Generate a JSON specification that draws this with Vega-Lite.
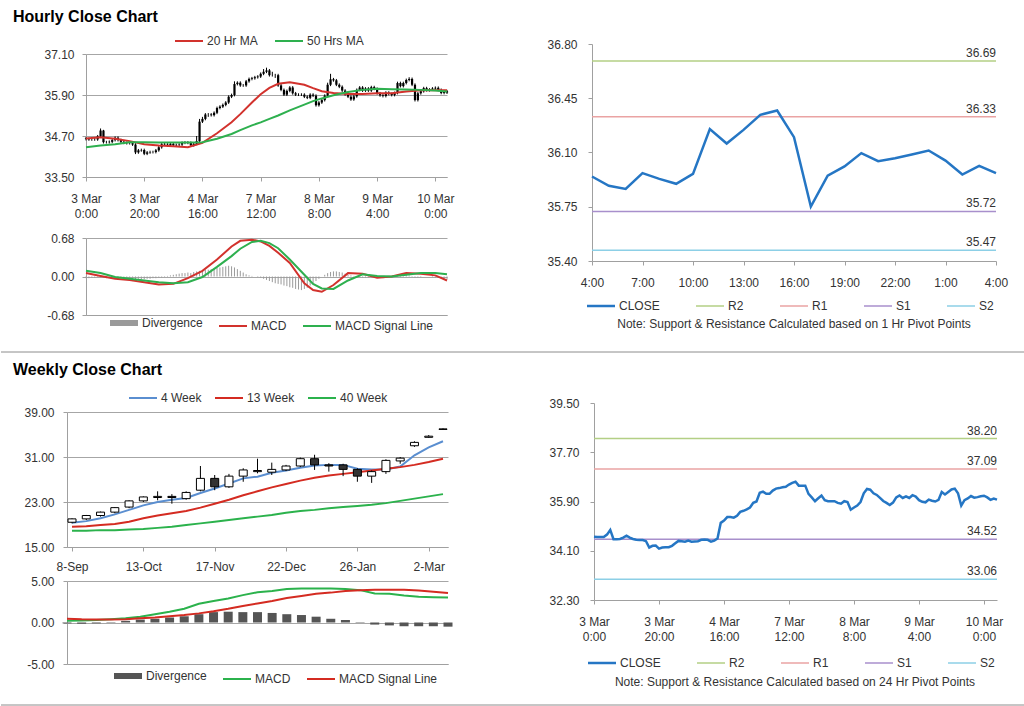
{
  "$schema": "https://vega.github.io/schema/vega-lite/v6.json",
  "padding": {"left": 0, "top": 9, "right": 0, "bottom": 0},
  "background": "white",
  "config": {
    "font": "Liberation Sans",
    "view": {"stroke": null},
    "axis": {"labelFont": "Liberation Sans", "labelFontSize": 12, "labelColor": "#333333", "domainColor": "#a0a0a0", "tickColor": "#a0a0a0", "tickSize": 4, "gridColor": "#a6a6a6", "labelFlush": false, "labelOverlap": false, "tickCount": 20},
    "legend": {"labelFont": "Liberation Sans", "labelFontSize": 12, "labelColor": "#333333", "layout": {"top": {"anchor": "middle"}, "bottom": {"anchor": "middle"}}},
    "title": {"font": "Liberation Sans"}
  },
  "datasets": {
    "hourly": [
      {"i":0,"o":34.63,"h":34.67,"l":34.57,"c":34.61,"d":-0.03},
      {"i":1,"o":34.61,"h":34.65,"l":34.56,"c":34.60,"d":-0.03},
      {"i":2,"o":34.60,"h":34.64,"l":34.56,"c":34.60,"d":-0.02},
      {"i":3,"o":34.60,"h":34.64,"l":34.56,"c":34.60,"d":-0.02},
      {"i":4,"o":34.60,"h":34.73,"l":34.56,"c":34.69,"d":-0.01},
      {"i":5,"o":34.69,"h":34.92,"l":34.65,"c":34.86,"d":-0.02},
      {"i":6,"o":34.86,"h":34.88,"l":34.48,"c":34.52,"d":-0.02},
      {"i":7,"o":34.52,"h":34.56,"l":34.48,"c":34.52,"d":-0.03},
      {"i":8,"o":34.52,"h":34.57,"l":34.48,"c":34.53,"d":-0.02},
      {"i":9,"o":34.53,"h":34.62,"l":34.49,"c":34.58,"d":-0.02},
      {"i":10,"o":34.58,"h":34.69,"l":34.54,"c":34.65,"d":-0.02},
      {"i":11,"o":34.65,"h":34.69,"l":34.54,"c":34.58,"d":-0.03},
      {"i":12,"o":34.58,"h":34.62,"l":34.49,"c":34.53,"d":-0.03},
      {"i":13,"o":34.53,"h":34.57,"l":34.46,"c":34.50,"d":-0.03},
      {"i":14,"o":34.50,"h":34.54,"l":34.45,"c":34.49,"d":-0.04},
      {"i":15,"o":34.49,"h":34.53,"l":34.45,"c":34.49,"d":-0.03},
      {"i":16,"o":34.49,"h":34.53,"l":34.41,"c":34.45,"d":-0.04},
      {"i":17,"o":34.45,"h":34.49,"l":34.17,"c":34.22,"d":-0.05},
      {"i":18,"o":34.22,"h":34.32,"l":34.18,"c":34.28,"d":-0.04},
      {"i":19,"o":34.28,"h":34.33,"l":34.24,"c":34.29,"d":-0.05},
      {"i":20,"o":34.29,"h":34.33,"l":34.14,"c":34.18,"d":-0.05},
      {"i":21,"o":34.18,"h":34.26,"l":34.14,"c":34.22,"d":-0.04},
      {"i":22,"o":34.22,"h":34.27,"l":34.18,"c":34.23,"d":-0.04},
      {"i":23,"o":34.23,"h":34.27,"l":34.19,"c":34.23,"d":-0.03},
      {"i":24,"o":34.23,"h":34.32,"l":34.19,"c":34.28,"d":-0.03},
      {"i":25,"o":34.28,"h":34.41,"l":34.24,"c":34.37,"d":-0.02},
      {"i":26,"o":34.37,"h":34.50,"l":34.33,"c":34.46,"d":-0.02},
      {"i":27,"o":34.46,"h":34.50,"l":34.41,"c":34.45,"d":-0.01},
      {"i":28,"o":34.45,"h":34.49,"l":34.39,"c":34.43,"d":0.01},
      {"i":29,"o":34.43,"h":34.51,"l":34.39,"c":34.47,"d":0.02},
      {"i":30,"o":34.47,"h":34.51,"l":34.39,"c":34.43,"d":0.03},
      {"i":31,"o":34.43,"h":34.48,"l":34.39,"c":34.44,"d":0.04},
      {"i":32,"o":34.44,"h":34.49,"l":34.40,"c":34.45,"d":0.05},
      {"i":33,"o":34.45,"h":34.54,"l":34.41,"c":34.50,"d":0.06},
      {"i":34,"o":34.50,"h":34.55,"l":34.46,"c":34.51,"d":0.06},
      {"i":35,"o":34.51,"h":34.55,"l":34.46,"c":34.50,"d":0.07},
      {"i":36,"o":34.50,"h":34.54,"l":34.39,"c":34.43,"d":0.06},
      {"i":37,"o":34.43,"h":34.51,"l":34.39,"c":34.47,"d":0.08},
      {"i":38,"o":34.47,"h":34.70,"l":34.43,"c":34.55,"d":0.09},
      {"i":39,"o":34.55,"h":35.20,"l":34.51,"c":35.12,"d":0.10},
      {"i":40,"o":35.12,"h":35.26,"l":35.08,"c":35.20,"d":0.11},
      {"i":41,"o":35.20,"h":35.37,"l":35.16,"c":35.33,"d":0.12},
      {"i":42,"o":35.33,"h":35.37,"l":35.26,"c":35.33,"d":0.12},
      {"i":43,"o":35.33,"h":35.37,"l":35.27,"c":35.31,"d":0.13},
      {"i":44,"o":35.31,"h":35.42,"l":35.27,"c":35.38,"d":0.14},
      {"i":45,"o":35.38,"h":35.56,"l":35.34,"c":35.52,"d":0.15},
      {"i":46,"o":35.52,"h":35.60,"l":35.48,"c":35.56,"d":0.16},
      {"i":47,"o":35.56,"h":35.65,"l":35.52,"c":35.61,"d":0.17},
      {"i":48,"o":35.61,"h":35.72,"l":35.57,"c":35.68,"d":0.18},
      {"i":49,"o":35.68,"h":35.89,"l":35.64,"c":35.85,"d":0.19},
      {"i":50,"o":35.85,"h":35.94,"l":35.81,"c":35.90,"d":0.18},
      {"i":51,"o":35.90,"h":36.30,"l":35.86,"c":36.22,"d":0.16},
      {"i":52,"o":36.22,"h":36.30,"l":36.18,"c":36.26,"d":0.13},
      {"i":53,"o":36.26,"h":36.30,"l":36.14,"c":36.18,"d":0.10},
      {"i":54,"o":36.18,"h":36.22,"l":36.14,"c":36.18,"d":0.07},
      {"i":55,"o":36.18,"h":36.34,"l":36.14,"c":36.30,"d":0.04},
      {"i":56,"o":36.30,"h":36.41,"l":36.26,"c":36.37,"d":0.02},
      {"i":57,"o":36.37,"h":36.43,"l":36.33,"c":36.39,"d":0.01},
      {"i":58,"o":36.39,"h":36.46,"l":36.35,"c":36.42,"d":0.00},
      {"i":59,"o":36.42,"h":36.48,"l":36.38,"c":36.44,"d":-0.01},
      {"i":60,"o":36.44,"h":36.56,"l":36.40,"c":36.52,"d":-0.02},
      {"i":61,"o":36.52,"h":36.66,"l":36.48,"c":36.58,"d":-0.04},
      {"i":62,"o":36.58,"h":36.70,"l":36.54,"c":36.62,"d":-0.06},
      {"i":63,"o":36.62,"h":36.66,"l":36.44,"c":36.48,"d":-0.08},
      {"i":64,"o":36.48,"h":36.58,"l":36.44,"c":36.48,"d":-0.10},
      {"i":65,"o":36.48,"h":36.52,"l":36.40,"c":36.48,"d":-0.12},
      {"i":66,"o":36.48,"h":36.52,"l":36.14,"c":36.18,"d":-0.13},
      {"i":67,"o":36.18,"h":36.22,"l":36.01,"c":36.05,"d":-0.14},
      {"i":68,"o":36.05,"h":36.09,"l":35.87,"c":35.91,"d":-0.16},
      {"i":69,"o":35.91,"h":36.06,"l":35.87,"c":36.02,"d":-0.17},
      {"i":70,"o":36.02,"h":36.16,"l":35.98,"c":36.12,"d":-0.19},
      {"i":71,"o":36.12,"h":36.16,"l":35.91,"c":35.95,"d":-0.20},
      {"i":72,"o":35.95,"h":35.99,"l":35.87,"c":35.91,"d":-0.22},
      {"i":73,"o":35.91,"h":35.95,"l":35.87,"c":35.91,"d":-0.23},
      {"i":74,"o":35.91,"h":35.95,"l":35.87,"c":35.91,"d":-0.24},
      {"i":75,"o":35.91,"h":35.95,"l":35.81,"c":35.85,"d":-0.22},
      {"i":76,"o":35.85,"h":35.89,"l":35.78,"c":35.82,"d":-0.20},
      {"i":77,"o":35.82,"h":35.95,"l":35.78,"c":35.91,"d":-0.16},
      {"i":78,"o":35.91,"h":35.95,"l":35.84,"c":35.88,"d":-0.12},
      {"i":79,"o":35.88,"h":35.92,"l":35.56,"c":35.60,"d":-0.08},
      {"i":80,"o":35.60,"h":35.72,"l":35.56,"c":35.68,"d":-0.04},
      {"i":81,"o":35.68,"h":35.79,"l":35.64,"c":35.75,"d":0.00},
      {"i":82,"o":35.75,"h":35.92,"l":35.71,"c":35.88,"d":0.03},
      {"i":83,"o":35.88,"h":36.26,"l":35.84,"c":36.20,"d":0.06},
      {"i":84,"o":36.20,"h":36.52,"l":36.16,"c":36.36,"d":0.08},
      {"i":85,"o":36.36,"h":36.40,"l":36.29,"c":36.33,"d":0.09},
      {"i":86,"o":36.33,"h":36.37,"l":36.16,"c":36.20,"d":0.09},
      {"i":87,"o":36.20,"h":36.24,"l":36.10,"c":36.14,"d":0.08},
      {"i":88,"o":36.14,"h":36.18,"l":35.99,"c":36.03,"d":0.07},
      {"i":89,"o":36.03,"h":36.07,"l":35.88,"c":35.92,"d":0.05},
      {"i":90,"o":35.92,"h":35.96,"l":35.81,"c":35.85,"d":0.03},
      {"i":91,"o":35.85,"h":35.89,"l":35.73,"c":35.77,"d":0.02},
      {"i":92,"o":35.77,"h":35.90,"l":35.73,"c":35.86,"d":0.01},
      {"i":93,"o":35.86,"h":36.09,"l":35.82,"c":36.05,"d":0.00},
      {"i":94,"o":36.05,"h":36.16,"l":36.01,"c":36.12,"d":-0.01},
      {"i":95,"o":36.12,"h":36.16,"l":35.99,"c":36.03,"d":-0.02},
      {"i":96,"o":36.03,"h":36.13,"l":35.99,"c":36.09,"d":-0.02},
      {"i":97,"o":36.09,"h":36.13,"l":35.99,"c":36.03,"d":-0.02},
      {"i":98,"o":36.03,"h":36.17,"l":35.99,"c":36.13,"d":-0.01},
      {"i":99,"o":36.13,"h":36.17,"l":36.04,"c":36.08,"d":-0.01},
      {"i":100,"o":36.08,"h":36.12,"l":35.91,"c":35.95,"d":-0.02},
      {"i":101,"o":35.95,"h":35.99,"l":35.85,"c":35.89,"d":-0.02},
      {"i":102,"o":35.89,"h":35.93,"l":35.83,"c":35.87,"d":-0.03},
      {"i":103,"o":35.87,"h":36.01,"l":35.83,"c":35.97,"d":-0.02},
      {"i":104,"o":35.97,"h":36.01,"l":35.89,"c":35.93,"d":-0.01},
      {"i":105,"o":35.93,"h":35.97,"l":35.86,"c":35.90,"d":0.00},
      {"i":106,"o":35.90,"h":36.00,"l":35.86,"c":35.96,"d":0.01},
      {"i":107,"o":35.96,"h":36.29,"l":35.92,"c":36.25,"d":0.02},
      {"i":108,"o":36.25,"h":36.29,"l":36.12,"c":36.16,"d":0.03},
      {"i":109,"o":36.16,"h":36.29,"l":36.12,"c":36.25,"d":0.03},
      {"i":110,"o":36.25,"h":36.38,"l":36.21,"c":36.34,"d":0.03},
      {"i":111,"o":36.34,"h":36.42,"l":36.30,"c":36.37,"d":0.02},
      {"i":112,"o":36.37,"h":36.41,"l":36.16,"c":36.20,"d":0.01},
      {"i":113,"o":36.20,"h":36.24,"l":35.71,"c":35.75,"d":-0.02},
      {"i":114,"o":35.75,"h":35.99,"l":35.71,"c":35.95,"d":-0.02},
      {"i":115,"o":35.95,"h":36.05,"l":35.91,"c":36.01,"d":-0.01},
      {"i":116,"o":36.01,"h":36.14,"l":35.97,"c":36.10,"d":0.00},
      {"i":117,"o":36.10,"h":36.14,"l":36.00,"c":36.04,"d":0.00},
      {"i":118,"o":36.04,"h":36.10,"l":36.00,"c":36.06,"d":0.00},
      {"i":119,"o":36.06,"h":36.13,"l":36.02,"c":36.09,"d":-0.01},
      {"i":120,"o":36.09,"h":36.15,"l":36.05,"c":36.11,"d":-0.02},
      {"i":121,"o":36.11,"h":36.15,"l":36.01,"c":36.05,"d":-0.02},
      {"i":122,"o":36.05,"h":36.09,"l":35.92,"c":35.96,"d":-0.03},
      {"i":123,"o":35.96,"h":36.05,"l":35.92,"c":36.01,"d":-0.04},
      {"i":124,"o":36.01,"h":36.05,"l":35.93,"c":35.97,"d":-0.05}
    ],
    "hl": [
      {"i":0,"a":34.63,"b":34.37,"m":0.06,"s":0.10},
      {"i":5,"a":34.66,"b":34.42,"m":0.01,"s":0.06},
      {"i":10,"a":34.62,"b":34.46,"m":-0.04,"s":-0.01},
      {"i":15,"a":34.55,"b":34.52,"m":-0.06,"s":-0.04},
      {"i":20,"a":34.46,"b":34.52,"m":-0.10,"s":-0.07},
      {"i":25,"a":34.42,"b":34.51,"m":-0.14,"s":-0.10},
      {"i":30,"a":34.40,"b":34.51,"m":-0.13,"s":-0.12},
      {"i":35,"a":34.37,"b":34.51,"m":-0.03,"s":-0.10},
      {"i":40,"a":34.50,"b":34.52,"m":0.10,"s":-0.01},
      {"i":45,"a":34.78,"b":34.62,"m":0.30,"s":0.17},
      {"i":50,"a":35.10,"b":34.76,"m":0.53,"s":0.36},
      {"i":53,"a":35.34,"b":34.87,"m":0.63,"s":0.49},
      {"i":57,"a":35.68,"b":35.01,"m":0.65,"s":0.61},
      {"i":60,"a":35.92,"b":35.10,"m":0.62,"s":0.63},
      {"i":63,"a":36.11,"b":35.20,"m":0.54,"s":0.59},
      {"i":66,"a":36.23,"b":35.30,"m":0.42,"s":0.50},
      {"i":70,"a":36.27,"b":35.45,"m":0.24,"s":0.30},
      {"i":75,"a":36.20,"b":35.62,"m":-0.12,"s":0.03},
      {"i":78,"a":36.10,"b":35.72,"m":-0.24,"s":-0.13},
      {"i":81,"a":36.01,"b":35.80,"m":-0.27,"s":-0.21},
      {"i":85,"a":35.96,"b":35.89,"m":-0.15,"s":-0.22},
      {"i":90,"a":35.93,"b":35.99,"m":0.06,"s":-0.07},
      {"i":95,"a":35.93,"b":36.05,"m":0.05,"s":0.04},
      {"i":100,"a":35.95,"b":36.08,"m":-0.02,"s":0.01},
      {"i":105,"a":35.95,"b":36.07,"m":0.00,"s":0.00},
      {"i":110,"a":36.00,"b":36.06,"m":0.06,"s":0.03},
      {"i":115,"a":36.04,"b":36.05,"m":0.05,"s":0.06},
      {"i":120,"a":36.04,"b":36.03,"m":0.02,"s":0.06},
      {"i":124,"a":36.04,"b":36.00,"m":-0.07,"s":0.04}
    ],
    "h24": [
      {"h":0,"c":35.945},{"h":1,"c":35.885},{"h":2,"c":35.865},{"h":3,"c":35.967},{"h":4,"c":35.93},
      {"h":5,"c":35.898},{"h":6,"c":35.962},{"h":7,"c":36.251},{"h":8,"c":36.158},{"h":9,"c":36.246},
      {"h":10,"c":36.343},{"h":11,"c":36.371},{"h":12,"c":36.199},{"h":13,"c":35.751},{"h":14,"c":35.951},
      {"h":15,"c":36.01},{"h":16,"c":36.096},{"h":17,"c":36.044},{"h":18,"c":36.063},{"h":19,"c":36.087},
      {"h":20,"c":36.113},{"h":21,"c":36.048},{"h":22,"c":35.958},{"h":23,"c":36.014},{"h":24,"c":35.967}
    ],
    "p1": [{"n":"R2","v":36.69},{"n":"R1","v":36.33},{"n":"S1","v":35.72},{"n":"S2","v":35.47}],
    "p24": [{"n":"R2","v":38.20},{"n":"R1","v":37.09},{"n":"S1","v":34.52},{"n":"S2","v":33.06}],
    "weekly": [
      {"i":0,"o":19.4,"h":20.1,"l":19.2,"c":20.0,"w4":19.3,"w13":18.6,"w40":17.9,"m":0.20,"s":0.45,"d":-0.10},
      {"i":1,"o":20.0,"h":20.7,"l":19.8,"c":20.6,"w4":19.6,"w13":18.7,"w40":17.9,"m":0.25,"s":0.38,"d":-0.15},
      {"i":2,"o":20.6,"h":21.3,"l":20.4,"c":21.2,"w4":20.1,"w13":18.9,"w40":18.0,"m":0.30,"s":0.35,"d":-0.10},
      {"i":3,"o":21.2,"h":22.1,"l":21.0,"c":22.0,"w4":20.8,"w13":19.1,"w40":18.0,"m":0.40,"s":0.35,"d":0.05},
      {"i":4,"o":22.1,"h":23.3,"l":21.9,"c":23.2,"w4":21.6,"w13":19.5,"w40":18.1,"m":0.50,"s":0.40,"d":0.20},
      {"i":5,"o":23.2,"h":24.0,"l":23.0,"c":23.9,"w4":22.4,"w13":20.1,"w40":18.2,"m":0.70,"s":0.50,"d":0.35},
      {"i":6,"o":23.8,"h":24.9,"l":23.3,"c":24.0,"w4":23.0,"w13":20.6,"w40":18.4,"m":1.00,"s":0.60,"d":0.45},
      {"i":7,"o":24.0,"h":24.4,"l":22.7,"c":23.8,"w4":23.4,"w13":21.0,"w40":18.6,"m":1.30,"s":0.75,"d":0.60},
      {"i":8,"o":23.6,"h":24.9,"l":23.4,"c":24.7,"w4":23.7,"w13":21.4,"w40":18.9,"m":1.65,"s":0.90,"d":0.75},
      {"i":9,"o":25.1,"h":29.4,"l":24.9,"c":27.2,"w4":24.6,"w13":22.0,"w40":19.2,"m":2.25,"s":1.10,"d":1.00},
      {"i":10,"o":27.2,"h":27.8,"l":25.1,"c":25.7,"w4":25.4,"w13":22.7,"w40":19.5,"m":2.60,"s":1.35,"d":1.25},
      {"i":11,"o":25.7,"h":28.0,"l":25.5,"c":27.6,"w4":26.3,"w13":23.4,"w40":19.8,"m":2.90,"s":1.65,"d":1.30},
      {"i":12,"o":27.6,"h":29.0,"l":26.6,"c":28.7,"w4":27.2,"w13":24.2,"w40":20.1,"m":3.30,"s":2.00,"d":1.25},
      {"i":13,"o":28.4,"h":30.7,"l":28.1,"c":28.6,"w4":27.5,"w13":24.9,"w40":20.4,"m":3.65,"s":2.30,"d":1.25},
      {"i":14,"o":28.3,"h":30.0,"l":27.8,"c":28.8,"w4":28.2,"w13":25.6,"w40":20.7,"m":3.80,"s":2.60,"d":1.15},
      {"i":15,"o":28.7,"h":29.6,"l":28.5,"c":29.4,"w4":28.6,"w13":26.2,"w40":21.1,"m":4.05,"s":2.95,"d":1.00},
      {"i":16,"o":29.4,"h":30.9,"l":29.2,"c":30.7,"w4":29.1,"w13":26.8,"w40":21.4,"m":4.10,"s":3.20,"d":0.90},
      {"i":17,"o":30.7,"h":31.4,"l":28.7,"c":29.6,"w4":29.5,"w13":27.3,"w40":21.6,"m":4.10,"s":3.45,"d":0.70},
      {"i":18,"o":29.6,"h":29.9,"l":28.4,"c":29.4,"w4":29.6,"w13":27.7,"w40":21.9,"m":4.10,"s":3.60,"d":0.45},
      {"i":19,"o":29.6,"h":29.8,"l":27.6,"c":28.8,"w4":29.6,"w13":28.0,"w40":22.1,"m":4.05,"s":3.80,"d":0.30},
      {"i":20,"o":28.8,"h":29.0,"l":26.6,"c":27.6,"w4":28.9,"w13":28.3,"w40":22.3,"m":3.90,"s":3.90,"d":-0.05},
      {"i":21,"o":27.6,"h":28.6,"l":26.4,"c":28.4,"w4":28.8,"w13":28.6,"w40":22.5,"m":3.50,"s":3.95,"d":-0.25},
      {"i":22,"o":28.4,"h":30.6,"l":28.0,"c":30.4,"w4":28.8,"w13":28.9,"w40":22.8,"m":3.45,"s":3.95,"d":-0.35},
      {"i":23,"o":30.3,"h":31.0,"l":29.8,"c":30.8,"w4":29.3,"w13":29.2,"w40":23.2,"m":3.25,"s":3.95,"d":-0.45},
      {"i":24,"o":33.0,"h":33.8,"l":32.8,"c":33.6,"w4":31.3,"w13":29.6,"w40":23.6,"m":3.10,"s":3.85,"d":-0.45},
      {"i":25,"o":34.5,"h":34.9,"l":34.4,"c":34.7,"w4":32.7,"w13":30.1,"w40":24.0,"m":3.05,"s":3.70,"d":-0.45},
      {"i":26,"o":35.9,"h":36.1,"l":35.8,"c":36.0,"w4":33.8,"w13":30.7,"w40":24.4,"m":3.00,"s":3.55,"d":-0.50}
    ]
  },
  "columns": 1,
  "align": "none",
  "spacing": 0,
  "resolve": {"scale": {"color": "independent"}, "legend": {"color": "independent"}},
  "concat": [
    {
      "title": {"text": "Hourly Close Chart", "anchor": "start", "fontSize": 16, "fontWeight": "bold", "color": "#000000", "offset": 10, "dx": 12},
      "columns": 2,
      "align": "none",
      "spacing": -1,
      "resolve": {"scale": {"color": "independent"}, "legend": {"color": "independent"}},
      "concat": [
        {"width": 1, "height": 1, "data": {"values": [{"s": 0}]}, "mark": {"type": "point", "opacity": 0, "size": 0}, "encoding": {}},
        {
          "columns": 2,
          "align": "none",
          "spacing": 91,
          "resolve": {"scale": {"color": "independent"}, "legend": {"color": "independent"}},
          "concat": [
            {
              "spacing": 1,
              "resolve": {"scale": {"color": "independent"}, "legend": {"color": "independent"}},
              "vconcat": [
                {
                  "width": 361, "height": 1,
                  "data": {"name": "hl"},
                  "layer": [
                    {"mark": {"type": "line", "clip": true},
                     "encoding": {"x": {"field": "i", "type": "quantitative", "axis": null, "scale": {"domain": [0, 124]}}, "y": {"field": "a", "type": "quantitative", "axis": null, "scale": {"domain": [0, 1]}},
                       "color": {"datum": "20 Hr MA", "type": "nominal", "scale": {"domain": ["20 Hr MA", "50 Hrs MA"], "range": ["#d2322d", "#2eb04f"]}, "legend": {"orient": "top", "direction": "horizontal", "title": " ", "titleOrient": "left", "titlePadding": 14, "symbolType": "M-2.8,0H2.8", "symbolSize": 100, "symbolStrokeWidth": 2, "labelOffset": 12, "columnPadding": 13, "offset": -3}}}},
                    {"mark": {"type": "line", "clip": true},
                     "encoding": {"x": {"field": "i", "type": "quantitative", "axis": null}, "y": {"field": "b", "type": "quantitative", "axis": null}, "color": {"datum": "50 Hrs MA", "type": "nominal"}}}
                  ]
                },
                {
                  "spacing": 13,
                  "resolve": {"scale": {"color": "independent"}, "legend": {"color": "independent"}},
                  "vconcat": [
                    {
                      "width": 361, "height": 123,
                      "encoding": {"x": {"field": "i", "type": "quantitative", "title": null, "scale": {"domain": [0, 124], "nice": false, "zero": false}, "axis": {"values": [0, 20, 40, 60, 80, 100, 120], "labelExpr": "[['3 Mar','0:00'],['3 Mar','20:00'],['4 Mar','16:00'],['7 Mar','12:00'],['8 Mar','8:00'],['9 Mar','4:00'],['10 Mar','0:00']][datum.value / 20]", "labelPadding": 12, "labelLineHeight": 15, "grid": false, "domain": true, "ticks": true}}},
                      "layer": [
                        {"data": {"name": "hourly"}, "mark": {"type": "rule", "color": "#000000", "strokeWidth": 1},
                         "encoding": {"y": {"field": "l", "type": "quantitative", "scale": {"domain": [33.5, 37.1], "nice": false, "zero": false}, "axis": {"values": [33.5, 34.7, 35.9, 37.1], "format": ".2f", "grid": true, "labelPadding": 8, "title": " ", "titleFontSize": 1, "titlePadding": 0, "minExtent": 84, "maxExtent": 84}}, "y2": {"field": "h"}}},
                        {"data": {"name": "hourly"}, "mark": {"type": "rule", "color": "#000000", "strokeWidth": 2.2},
                         "encoding": {"y": {"field": "o", "type": "quantitative"}, "y2": {"field": "c"}}},
                        {"data": {"name": "hl"}, "mark": {"type": "line", "strokeWidth": 2, "color": "#d2322d"},
                         "encoding": {"y": {"field": "a", "type": "quantitative"}}},
                        {"data": {"name": "hl"}, "mark": {"type": "line", "strokeWidth": 2, "color": "#2eb04f"},
                         "encoding": {"y": {"field": "b", "type": "quantitative"}}}
                      ]
                    },
                    {
                      "width": 361, "height": 77,
                      "encoding": {"x": {"field": "i", "type": "quantitative", "title": null, "scale": {"domain": [0, 124], "nice": false, "zero": false}, "axis": {"labels": false, "ticks": false, "grid": false, "domain": true}}},
                      "layer": [
                        {"data": {"name": "hourly"}, "mark": {"type": "rule", "strokeWidth": 1},
                         "encoding": {"y": {"field": "d", "type": "quantitative", "scale": {"domain": [-0.68, 0.68], "nice": false, "zero": false}, "axis": {"values": [-0.68, 0, 0.68], "labelExpr": "replace(format(datum.value, '.2f'), '\u2212', '-')", "grid": true, "labelPadding": 8, "title": " ", "titleFontSize": 1, "titlePadding": 0, "minExtent": 84, "maxExtent": 84}}, "y2": {"datum": 0},
                           "color": {"datum": "Divergence", "type": "nominal", "scale": {"domain": ["Divergence", "MACD", "MACD Signal Line"], "range": ["#9a9a9a", "#d2322d", "#2eb04f"]}, "legend": {"orient": "bottom", "direction": "horizontal", "title": " ", "titleOrient": "left", "titlePadding": 18, "symbolType": "M-2.8,0H2.8", "symbolSize": 100, "symbolStrokeWidth": 2, "labelOffset": 12, "columnPadding": 12, "offset": 2, "encode": {"symbols": {"update": {"strokeWidth": {"signal": "datum.value === 'Divergence' ? 6 : 2"}}}}}}}},
                        {"data": {"name": "hl"}, "mark": {"type": "line", "strokeWidth": 2},
                         "encoding": {"y": {"field": "m", "type": "quantitative"}, "color": {"datum": "MACD", "type": "nominal"}}},
                        {"data": {"name": "hl"}, "mark": {"type": "line", "strokeWidth": 2},
                         "encoding": {"y": {"field": "s", "type": "quantitative"}, "color": {"datum": "MACD Signal Line", "type": "nominal"}}}
                      ]
                    }
                  ]
                }
              ]
            },
            {
              "width": 404, "height": 217,
              "layer": [
                {"data": {"name": "p1"}, "mark": {"type": "rule", "strokeWidth": 1.5},
                 "encoding": {"y": {"field": "v", "type": "quantitative", "scale": {"domain": [35.4, 36.8], "nice": false, "zero": false}, "axis": {"title": null, "values": [35.4, 35.75, 36.1, 36.45, 36.8], "format": ".2f", "grid": false, "labelPadding": 11, "domain": true, "ticks": true}},
                   "color": {"field": "n", "type": "nominal", "scale": {"domain": ["CLOSE", "R2", "R1", "S1", "S2"], "range": ["#2576c4", "#b3cf85", "#eaa3a3", "#a88fcc", "#8ccfe6"]}, "legend": {"orient": "bottom", "direction": "horizontal", "title": "Note: Support & Resistance Calculated based on 1 Hr Pivot Points", "titleOrient": "bottom", "titleAnchor": "middle", "titleFontSize": 12, "titleFontWeight": "normal", "titleColor": "#333333", "titleLimit": 600, "titlePadding": 7, "symbolType": "M-2.8,0H2.8", "symbolSize": 100, "symbolStrokeWidth": 1.5, "labelOffset": 12, "columnPadding": 33, "offset": 12, "encode": {"symbols": {"update": {"strokeWidth": {"signal": "datum.value === 'CLOSE' ? 2.5 : 1.5"}}}}}}}},
                {"data": {"name": "h24"}, "mark": {"type": "line", "strokeWidth": 2.5},
                 "encoding": {"x": {"field": "h", "type": "quantitative", "scale": {"domain": [0, 24], "nice": false, "zero": false}, "axis": {"title": null, "values": [0, 3, 6, 9, 12, 15, 18, 21, 24], "labelExpr": "(datum.value + 4) % 24 + ':00'", "labelPadding": 12, "grid": false, "domain": true, "ticks": true}},
                   "y": {"field": "c", "type": "quantitative"}, "color": {"datum": "CLOSE", "type": "nominal"}}},
                {"data": {"name": "p1"}, "mark": {"type": "text", "align": "right", "baseline": "bottom", "dy": -1, "fontSize": 12, "color": "#333333"},
                 "encoding": {"x": {"datum": 24, "type": "quantitative"}, "y": {"field": "v", "type": "quantitative"}, "text": {"field": "v", "type": "quantitative", "format": ".2f"}}}
              ]
            }
          ]
        }
      ]
    },
    {
      "width": 1024, "height": 27,
      "data": {"values": [{"s": 0}]},
      "mark": {"type": "rule", "color": "#8c8c8c", "strokeWidth": 1},
      "encoding": {"y": {"datum": 10, "type": "quantitative", "scale": {"domain": [0, 27]}, "axis": null}}
    },
    {
      "title": {"text": "Weekly Close Chart", "anchor": "start", "fontSize": 16, "fontWeight": "bold", "color": "#000000", "offset": 14, "dx": 12},
      "columns": 2,
      "align": "none",
      "spacing": -1,
      "resolve": {"scale": {"color": "independent"}, "legend": {"color": "independent"}},
      "concat": [
        {"width": 1, "height": 1, "data": {"values": [{"s": 0}]}, "mark": {"type": "point", "opacity": 0, "size": 0}, "encoding": {}},
        {
          "columns": 2,
          "align": "none",
          "spacing": 95,
          "resolve": {"scale": {"color": "independent"}, "legend": {"color": "independent"}},
          "concat": [
            {
              "spacing": 2,
              "resolve": {"scale": {"color": "independent"}, "legend": {"color": "independent"}},
              "vconcat": [
                {
                  "width": 381, "height": 1,
                  "data": {"name": "weekly"},
                  "layer": [
                    {"mark": {"type": "line", "clip": true},
                     "encoding": {"x": {"field": "i", "type": "quantitative", "axis": null, "scale": {"domain": [0, 26]}}, "y": {"field": "w4", "type": "quantitative", "axis": null, "scale": {"domain": [0, 1]}},
                       "color": {"datum": "4 Week", "type": "nominal", "scale": {"domain": ["4 Week", "13 Week", "40 Week"], "range": ["#5a8ed0", "#d42b21", "#2bb24c"]}, "legend": {"orient": "top", "direction": "horizontal", "title": " ", "titleOrient": "left", "titlePadding": 9, "symbolType": "M-2.8,0H2.8", "symbolSize": 100, "symbolStrokeWidth": 2, "labelOffset": 12, "columnPadding": 9, "offset": -1}}}},
                    {"mark": {"type": "line", "clip": true},
                     "encoding": {"x": {"field": "i", "type": "quantitative", "axis": null}, "y": {"field": "w13", "type": "quantitative", "axis": null}, "color": {"datum": "13 Week", "type": "nominal"}}},
                    {"mark": {"type": "line", "clip": true},
                     "encoding": {"x": {"field": "i", "type": "quantitative", "axis": null}, "y": {"field": "w40", "type": "quantitative", "axis": null}, "color": {"datum": "40 Week", "type": "nominal"}}}
                  ]
                },
                {
                  "spacing": 3,
                  "resolve": {"scale": {"color": "independent"}, "legend": {"color": "independent"}},
                  "vconcat": [
                    {
                      "width": 381, "height": 135,
                      "data": {"name": "weekly"},
                      "encoding": {"x": {"field": "i", "type": "quantitative", "title": null, "scale": {"domain": [0, 26], "nice": false, "zero": false}, "axis": {"values": [0, 5, 10, 15, 20, 25], "labelExpr": "['8-Sep','13-Oct','17-Nov','22-Dec','26-Jan','2-Mar'][datum.value / 5]", "labelPadding": 10, "grid": false, "domain": true, "ticks": true}}},
                      "layer": [
                        {"mark": {"type": "line", "strokeWidth": 2, "color": "#5a8ed0"},
                         "encoding": {"y": {"field": "w4", "type": "quantitative", "scale": {"domain": [15, 39], "nice": false, "zero": false}, "axis": {"values": [15, 23, 31, 39], "format": ".2f", "grid": true, "labelPadding": 9, "title": " ", "titleFontSize": 1, "titlePadding": 0, "minExtent": 65, "maxExtent": 65}}}},
                        {"mark": {"type": "line", "strokeWidth": 2, "color": "#d42b21"},
                         "encoding": {"y": {"field": "w13", "type": "quantitative"}}},
                        {"mark": {"type": "line", "strokeWidth": 2, "color": "#2bb24c"},
                         "encoding": {"y": {"field": "w40", "type": "quantitative"}}},
                        {"mark": {"type": "rule", "color": "#000000", "strokeWidth": 1},
                         "encoding": {"y": {"field": "l", "type": "quantitative"}, "y2": {"field": "h"}}},
                        {"mark": {"type": "bar", "size": 8, "stroke": "#000000", "strokeWidth": 1},
                         "encoding": {"y": {"field": "o", "type": "quantitative"}, "y2": {"field": "c"}, "fill": {"condition": {"test": "datum.c < datum.o", "value": "#333333"}, "value": "#ffffff"}}}
                      ]
                    },
                    {
                      "width": 381, "height": 83,
                      "data": {"name": "weekly"},
                      "encoding": {"x": {"field": "i", "type": "quantitative", "title": null, "scale": {"domain": [0, 26], "nice": false, "zero": false}, "axis": {"labels": false, "ticks": false, "grid": false, "domain": true}}},
                      "layer": [
                        {"mark": {"type": "rule", "strokeWidth": 9},
                         "encoding": {"y": {"field": "d", "type": "quantitative", "scale": {"domain": [-5, 5], "nice": false, "zero": false}, "axis": {"values": [-5, 0, 5], "labelExpr": "replace(format(datum.value, '.2f'), '\u2212', '-')", "grid": true, "labelPadding": 9, "title": " ", "titleFontSize": 1, "titlePadding": 0, "minExtent": 65, "maxExtent": 65}}, "y2": {"datum": 0},
                           "color": {"datum": "Divergence", "type": "nominal", "scale": {"domain": ["Divergence", "MACD", "MACD Signal Line"], "range": ["#555555", "#2bb24c", "#d42b21"]}, "legend": {"orient": "bottom", "direction": "horizontal", "title": " ", "titleOrient": "left", "titlePadding": 44, "symbolType": "M-2.8,0H2.8", "symbolSize": 100, "symbolStrokeWidth": 2, "labelOffset": 12, "columnPadding": 12, "offset": 6, "encode": {"symbols": {"update": {"strokeWidth": {"signal": "datum.value === 'Divergence' ? 6 : 2"}}}}}}}},
                        {"mark": {"type": "line", "strokeWidth": 2},
                         "encoding": {"y": {"field": "m", "type": "quantitative"}, "color": {"datum": "MACD", "type": "nominal"}}},
                        {"mark": {"type": "line", "strokeWidth": 2},
                         "encoding": {"y": {"field": "s", "type": "quantitative"}, "color": {"datum": "MACD Signal Line", "type": "nominal"}}}
                      ]
                    }
                  ]
                }
              ]
            },
            {
              "width": 403, "height": 197,
              "layer": [
                {"data": {"name": "p24"}, "mark": {"type": "rule", "strokeWidth": 1.5},
                 "encoding": {"y": {"field": "v", "type": "quantitative", "scale": {"domain": [32.3, 39.5], "nice": false, "zero": false}, "axis": {"title": null, "values": [32.3, 34.1, 35.9, 37.7, 39.5], "format": ".2f", "grid": false, "labelPadding": 11, "domain": true, "ticks": true}},
                   "color": {"field": "n", "type": "nominal", "scale": {"domain": ["CLOSE", "R2", "R1", "S1", "S2"], "range": ["#2576c4", "#b3cf85", "#eaa3a3", "#a88fcc", "#8ccfe6"]}, "legend": {"orient": "bottom", "direction": "horizontal", "title": "Note: Support & Resistance Calculated based on 24 Hr Pivot Points", "titleOrient": "bottom", "titleAnchor": "middle", "titleFontSize": 12, "titleFontWeight": "normal", "titleColor": "#333333", "titleLimit": 600, "titlePadding": 8, "symbolType": "M-2.8,0H2.8", "symbolSize": 100, "symbolStrokeWidth": 1.5, "labelOffset": 12, "columnPadding": 33, "offset": 15, "encode": {"symbols": {"update": {"strokeWidth": {"signal": "datum.value === 'CLOSE' ? 2.5 : 1.5"}}}}}}}},
                {"data": {"name": "hourly"}, "mark": {"type": "line", "strokeWidth": 2.5},
                 "encoding": {"x": {"field": "i", "type": "quantitative", "scale": {"domain": [0, 124], "nice": false, "zero": false}, "axis": {"title": null, "values": [0, 20, 40, 60, 80, 100, 120], "labelExpr": "[['3 Mar','0:00'],['3 Mar','20:00'],['4 Mar','16:00'],['7 Mar','12:00'],['8 Mar','8:00'],['9 Mar','4:00'],['10 Mar','0:00']][datum.value / 20]", "labelPadding": 12, "labelLineHeight": 15, "grid": false, "domain": true, "ticks": true}},
                   "y": {"field": "c", "type": "quantitative"}, "color": {"datum": "CLOSE", "type": "nominal"}}},
                {"data": {"name": "p24"}, "mark": {"type": "text", "align": "right", "baseline": "bottom", "dy": -1, "fontSize": 12, "color": "#333333"},
                 "encoding": {"x": {"datum": 124, "type": "quantitative"}, "y": {"field": "v", "type": "quantitative"}, "text": {"field": "v", "type": "quantitative", "format": ".2f"}}}
              ]
            }
          ]
        }
      ]
    },
    {
      "width": 1024, "height": 20,
      "data": {"values": [{"s": 0}]},
      "mark": {"type": "rule", "color": "#8c8c8c", "strokeWidth": 1},
      "encoding": {"y": {"datum": 3, "type": "quantitative", "scale": {"domain": [0, 20]}, "axis": null}}
    }
  ]
}
